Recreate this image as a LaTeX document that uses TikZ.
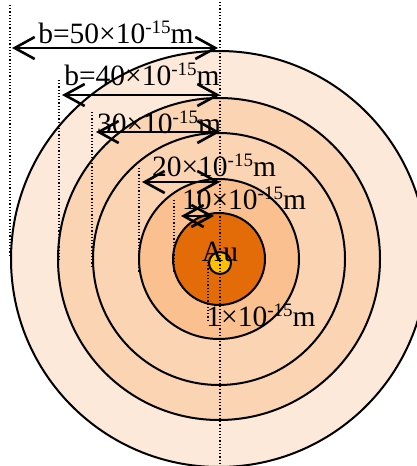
\documentclass[tikz,border=0pt]{standalone}
\usepackage{fontspec}
\setmainfont{Liberation Serif}
\usetikzlibrary{arrows.meta}
\definecolor{ringA}{HTML}{FDE9D9}
\definecolor{ringB}{HTML}{FBD4B4}
\definecolor{ringC}{HTML}{FAC090}
\definecolor{auCol}{HTML}{E36C09}
\definecolor{nucCol}{HTML}{FFC000}
\newcommand\supx[1]{\raisebox{10pt}{\fontsize{19}{19}\selectfont #1}}
\tikzset{
  ring/.style={draw=black, line width=2pt},
  guide/.style={dotted, line width=1.2pt},
  barb/.tip={Straight Barb[length=20pt,width=22pt,line width=2.6pt]},
  dim/.style={line width=2.6pt, barb-barb},
  lbl/.style={inner sep=0pt, anchor=base, font=\fontsize{29.5}{31}\selectfont}
}
\begin{document}
\begin{tikzpicture}[x=1pt,y=-1pt]
\useasboundingbox (0,0) rectangle (417,466);
\clip (0,0) rectangle (417,466);
\coordinate (c) at (219,259);
% circles
\fill[ringA] (c) circle[radius=208pt];
\draw[ring] (c) circle[radius=208pt];
\draw[ring, fill=ringB] (c) circle[radius=161pt];
\draw[ring, fill=ringB] (c) circle[radius=126pt];
\draw[ring, fill=ringC] (c) circle[radius=80pt];
\draw[ring, fill=auCol] (c) circle[radius=46pt];
\draw[ring, fill=nucCol] (220,263) circle[radius=11pt];
% dotted guides
\coordinate (g0t) at (220,2);   \coordinate (g0b) at (220,466);
\coordinate (g1t) at (10,5);    \coordinate (g1b) at (10,256);
\coordinate (g2t) at (59,80);   \coordinate (g2b) at (59,262);
\coordinate (g3t) at (92,112);  \coordinate (g3b) at (92,266);
\coordinate (g4t) at (139,168); \coordinate (g4b) at (139,272);
\coordinate (g5t) at (174,200); \coordinate (g5b) at (174,272);
\coordinate (g6t) at (208,262); \coordinate (g6b) at (208,322);
\foreach \g in {0,...,6} \draw[guide] (g\g t) -- (g\g b);
% dimension arrows
\coordinate (a50L) at (12,48);  \coordinate (a50R) at (218,48);
\coordinate (a40L) at (62,95);  \coordinate (a40R) at (220,95);
\coordinate (a30L) at (96,132); \coordinate (a30R) at (220,132);
\coordinate (a20L) at (142,182);\coordinate (a20R) at (220,182);
\coordinate (a10L) at (181,216);\coordinate (a10R) at (214,216);
\draw[dim] (a50L) -- (a50R);
\draw[dim] (a40L) -- (a40R);
\draw[dim] (a30L) -- (a30R);
\draw[dim] (a20L) -- (a20R);
\draw[dim] (a10L) -- (a10R);
% labels
\node[lbl] (t50) at (116,43) {b=50×10\supx{-15}m};
\node[lbl] (t40) at (142,85) {b=40×10\supx{-15}m};
\node[lbl] (t30) at (159,133) {30×10\supx{-15}m};
\node[lbl] (t20) at (214,176) {20×10\supx{-15}m};
\node[lbl] (t10) at (244,209) {10×10\supx{-15}m};
\node[lbl] (tau) at (220,261) {Au};
\node[lbl] (t1) at (261,326) {1×10\supx{-15}m};
\end{tikzpicture}
\end{document}
